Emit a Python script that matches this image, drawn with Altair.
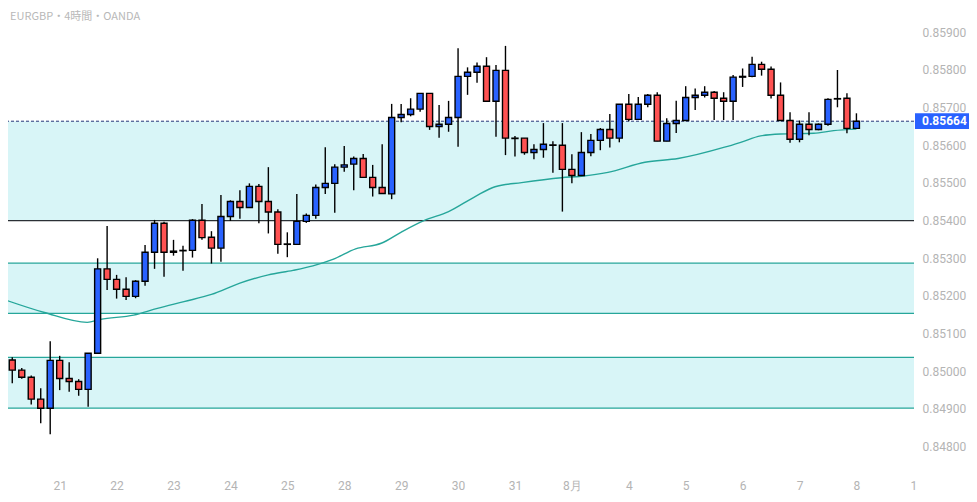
import altair as alt
import pandas as pd

# ---- candle data (EURGBP 4h) ----
opens = [0.85030, 0.85003, 0.84984, 0.84926, 0.84902, 0.85029, 0.84981, 0.84973, 0.84952, 0.85048,
         0.85272, 0.85244, 0.85218, 0.85199, 0.85239, 0.85316, 0.85393, 0.85316, 0.85320, 0.85321,
         0.85401, 0.85356, 0.85327, 0.85411, 0.85451, 0.85435, 0.85491, 0.85451, 0.85423, 0.85337,
         0.85337, 0.85398, 0.85414, 0.85488, 0.85499, 0.85542, 0.85550, 0.85565, 0.85515, 0.85488,
         0.85471, 0.85674, 0.85682, 0.85696, 0.85738, 0.85650, 0.85656, 0.85674, 0.85783, 0.85794,
         0.85810, 0.85717, 0.85799, 0.85619, 0.85619, 0.85581, 0.85589, 0.85601, 0.85600, 0.85536,
         0.85520, 0.85581, 0.85613, 0.85642, 0.85619, 0.85709, 0.85669, 0.85709, 0.85733, 0.85611,
         0.85658, 0.85666, 0.85727, 0.85733, 0.85741, 0.85725, 0.85717, 0.85781, 0.85783, 0.85815,
         0.85802, 0.85733, 0.85666, 0.85616, 0.85656, 0.85642, 0.85656, 0.85723, 0.85725, 0.85645]
highs = [0.85037, 0.85009, 0.84989, 0.84955, 0.85080, 0.85041, 0.85024, 0.84979, 0.85048, 0.85300,
         0.85386, 0.85256, 0.85250, 0.85242, 0.85335, 0.85402, 0.85397, 0.85349, 0.85333, 0.85404,
         0.85444, 0.85372, 0.85468, 0.85454, 0.85481, 0.85499, 0.85497, 0.85542, 0.85430, 0.85369,
         0.85471, 0.85419, 0.85496, 0.85595, 0.85550, 0.85598, 0.85570, 0.85577, 0.85548, 0.85603,
         0.85710, 0.85710, 0.85725, 0.85738, 0.85738, 0.85707, 0.85718, 0.85858, 0.85807, 0.85820,
         0.85834, 0.85813, 0.85864, 0.85625, 0.85619, 0.85603, 0.85659, 0.85611, 0.85659, 0.85576,
         0.85635, 0.85630, 0.85646, 0.85683, 0.85709, 0.85736, 0.85728, 0.85736, 0.85741, 0.85672,
         0.85718, 0.85757, 0.85751, 0.85757, 0.85744, 0.85741, 0.85787, 0.85804, 0.85835, 0.85822,
         0.85809, 0.85767, 0.85688, 0.85666, 0.85688, 0.85658, 0.85725, 0.85800, 0.85738, 0.85685]
lows = [0.84968, 0.84980, 0.84912, 0.84862, 0.84833, 0.84950, 0.84946, 0.84935, 0.84906, 0.85048,
        0.85216, 0.85193, 0.85189, 0.85194, 0.85227, 0.85272, 0.85251, 0.85307, 0.85267, 0.85302,
        0.85349, 0.85286, 0.85291, 0.85399, 0.85405, 0.85434, 0.85393, 0.85366, 0.85312, 0.85303,
        0.85337, 0.85394, 0.85405, 0.85471, 0.85421, 0.85530, 0.85481, 0.85515, 0.85464, 0.85472,
        0.85457, 0.85661, 0.85677, 0.85689, 0.85641, 0.85620, 0.85636, 0.85596, 0.85734, 0.85766,
        0.85717, 0.85623, 0.85574, 0.85570, 0.85575, 0.85563, 0.85567, 0.85527, 0.85424, 0.85499,
        0.85520, 0.85571, 0.85587, 0.85594, 0.85608, 0.85664, 0.85669, 0.85701, 0.85611, 0.85611,
        0.85633, 0.85666, 0.85694, 0.85727, 0.85667, 0.85667, 0.85667, 0.85755, 0.85781, 0.85785,
        0.85724, 0.85666, 0.85607, 0.85608, 0.85627, 0.85640, 0.85652, 0.85701, 0.85632, 0.85645]
closes = [0.85003, 0.84984, 0.84926, 0.84902, 0.85029, 0.84981, 0.84973, 0.84952, 0.85048, 0.85272,
          0.85244, 0.85218, 0.85199, 0.85239, 0.85316, 0.85393, 0.85316, 0.85319, 0.85321, 0.85401,
          0.85355, 0.85327, 0.85411, 0.85451, 0.85435, 0.85491, 0.85451, 0.85423, 0.85337, 0.85338,
          0.85398, 0.85414, 0.85488, 0.85499, 0.85542, 0.85548, 0.85565, 0.85515, 0.85488, 0.85472,
          0.85674, 0.85682, 0.85696, 0.85738, 0.85650, 0.85656, 0.85674, 0.85783, 0.85794, 0.85810,
          0.85717, 0.85799, 0.85619, 0.85618, 0.85581, 0.85589, 0.85603, 0.85600, 0.85536, 0.85520,
          0.85581, 0.85613, 0.85642, 0.85619, 0.85709, 0.85669, 0.85709, 0.85733, 0.85611, 0.85658,
          0.85666, 0.85727, 0.85733, 0.85741, 0.85725, 0.85717, 0.85781, 0.85783, 0.85815, 0.85802,
          0.85733, 0.85666, 0.85616, 0.85656, 0.85642, 0.85656, 0.85722, 0.85724, 0.85645, 0.85664]

# moving average (read at sample positions)
ma_index = [-0.8, 3.4, 7.9, 9.3, 12.8, 15.3, 18.1, 21.0, 24.0, 27.0, 29.6, 31.7, 33.8, 36.2, 38.9,
            41.1, 43.4, 46.0, 48.8, 50.9, 53.7, 57.9, 60.0, 62.8, 66.7, 70.2, 75.1, 76.8, 78.9,
            81.0, 84.5, 86.6, 89.0]
ma_value = [0.85190, 0.85156, 0.85130, 0.85138, 0.85149, 0.85167, 0.85185, 0.85204, 0.85234, 0.85256,
            0.85268, 0.85280, 0.85297, 0.85325, 0.85340, 0.85371, 0.85400, 0.85424, 0.85464, 0.85490,
            0.85501, 0.85514, 0.85518, 0.85528, 0.85555, 0.85565, 0.85595, 0.85608, 0.85625, 0.85630,
            0.85632, 0.85639, 0.85643]

# zones
band_tops = [0.85664, 0.85287, 0.85037]
band_bottoms = [0.85400, 0.85154, 0.84902]
dark_levels = [0.85400]
teal_levels = [0.85287, 0.85154, 0.85037, 0.84902]
last_price = 0.85664

# axis ticks
tick_index = [5, 11, 17, 23, 29, 35, 41, 47, 53, 59, 65, 71, 77, 83, 89, 95]
tick_labels = ["21", "22", "23", "24", "25", "28", "29", "30", "31", "8月", "4", "5", "6", "7", "8", "1"]
price_ticks = [0.848, 0.849, 0.850, 0.851, 0.852, 0.853, 0.854, 0.855, 0.856, 0.857, 0.858, 0.859]
title_text = "EURGBP・4時間・OANDA"

W, H = 906, 462
x_dom = [-0.45, 95.07]
y_dom = [0.847379, 0.859646]
xs = alt.Scale(domain=x_dom, nice=False, zero=False, padding=0)
ys = alt.Scale(domain=y_dom, nice=False, zero=False, padding=0)

df = pd.DataFrame({"i": list(range(len(opens))), "o": opens, "h": highs, "l": lows, "c": closes})

label_expr = "[" + ",".join("'%s'" % t for t in tick_labels) + "][indexof([" + \
    ",".join(str(t) for t in tick_index) + "], datum.value)]"

AXIS_COLOR = "#b4b4b4"
XAX = alt.Axis(values=tick_index, labelExpr=label_expr, grid=False, ticks=False, title=None,
               domain=False, labelColor=AXIS_COLOR, labelFontSize=12, labelFont="Roboto",
               labelPadding=10, labelFlush=False, labelOverlap=False)
YAX = alt.Axis(orient="right", values=price_ticks, format=".5f", grid=False, ticks=False, title=None,
               domain=False, labelColor=AXIS_COLOR, labelFontSize=12, labelFont="Roboto",
               labelPadding=8, labelOverlap=False)


def yq(field):
    return alt.Y(field, scale=ys, axis=YAX)


def xq(field):
    return alt.X(field, scale=xs, axis=XAX)


bands = alt.Chart(pd.DataFrame({"top": band_tops, "bot": band_bottoms})).mark_rect(
    color="#d8f5f7").encode(
    x=alt.value(0), x2=alt.value(W),
    y=yq("top:Q"), y2="bot:Q")

dark_lines = alt.Chart(pd.DataFrame({"p": dark_levels})).mark_rule(
    strokeWidth=1.2, color="#2b3035").encode(y=yq("p:Q"))
teal_lines = alt.Chart(pd.DataFrame({"p": teal_levels})).mark_rule(
    strokeWidth=1.2, color="#26a69a").encode(y=yq("p:Q"))

price_line = alt.Chart(pd.DataFrame({"p": [last_price]})).mark_rule(
    strokeDash=[3, 2], strokeWidth=1, color="#25367a").encode(y=yq("p:Q"))

ma = alt.Chart(pd.DataFrame({"i": ma_index, "v": ma_value})).mark_line(
    color="#26a69a", strokeWidth=1.4, interpolate="monotone", clip=True).encode(
    x=xq("i:Q"), y=yq("v:Q"))

wicks = alt.Chart(df).mark_rule(color="#000000", strokeWidth=1.4).encode(
    x=xq("i:Q"), y=yq("l:Q"), y2="h:Q")

bodies = alt.Chart(df).mark_bar(size=6, stroke="#000000", strokeWidth=1.4).encode(
    x=xq("i:Q"), y=yq("o:Q"), y2="c:Q",
    color=alt.condition("datum.c >= datum.o", alt.value("#2962ff"), alt.value("#ff5252")))

title = alt.Chart(pd.DataFrame({"t": [title_text]})).mark_text(
    align="left", baseline="middle", font="Noto Sans CJK JP", fontSize=11, color="#b8b8b8").encode(
    x=alt.value(2), y=alt.value(9), text="t:N")

box_df = pd.DataFrame({"p": [last_price], "label": ["%.5f" % last_price]})
price_box = alt.Chart(box_df).transform_calculate(
    top="datum.p + 0.00021", bot="datum.p - 0.00021").mark_rect(color="#2962ff").encode(
    x=alt.value(W + 1), x2=alt.value(W + 57),
    y=yq("top:Q"), y2="bot:Q")

price_text = alt.Chart(box_df).mark_text(
    align="left", baseline="middle", font="Roboto", fontSize=12, fontWeight="bold", color="#ffffff").encode(
    x=alt.value(W + 8), y=yq("p:Q"), text="label:N")

chart = alt.layer(bands, dark_lines, teal_lines, price_line, ma, wicks, bodies, title,
                  price_box, price_text).properties(
    width=W, height=H,
    autosize=alt.AutoSizeParams(type="none"),
    padding={"left": 0, "top": 0, "right": 55, "bottom": 24},
    background="#ffffff",
).configure_view(stroke=None)

chart.save("out.html", embed_options={"renderer": "svg", "actions": False})
